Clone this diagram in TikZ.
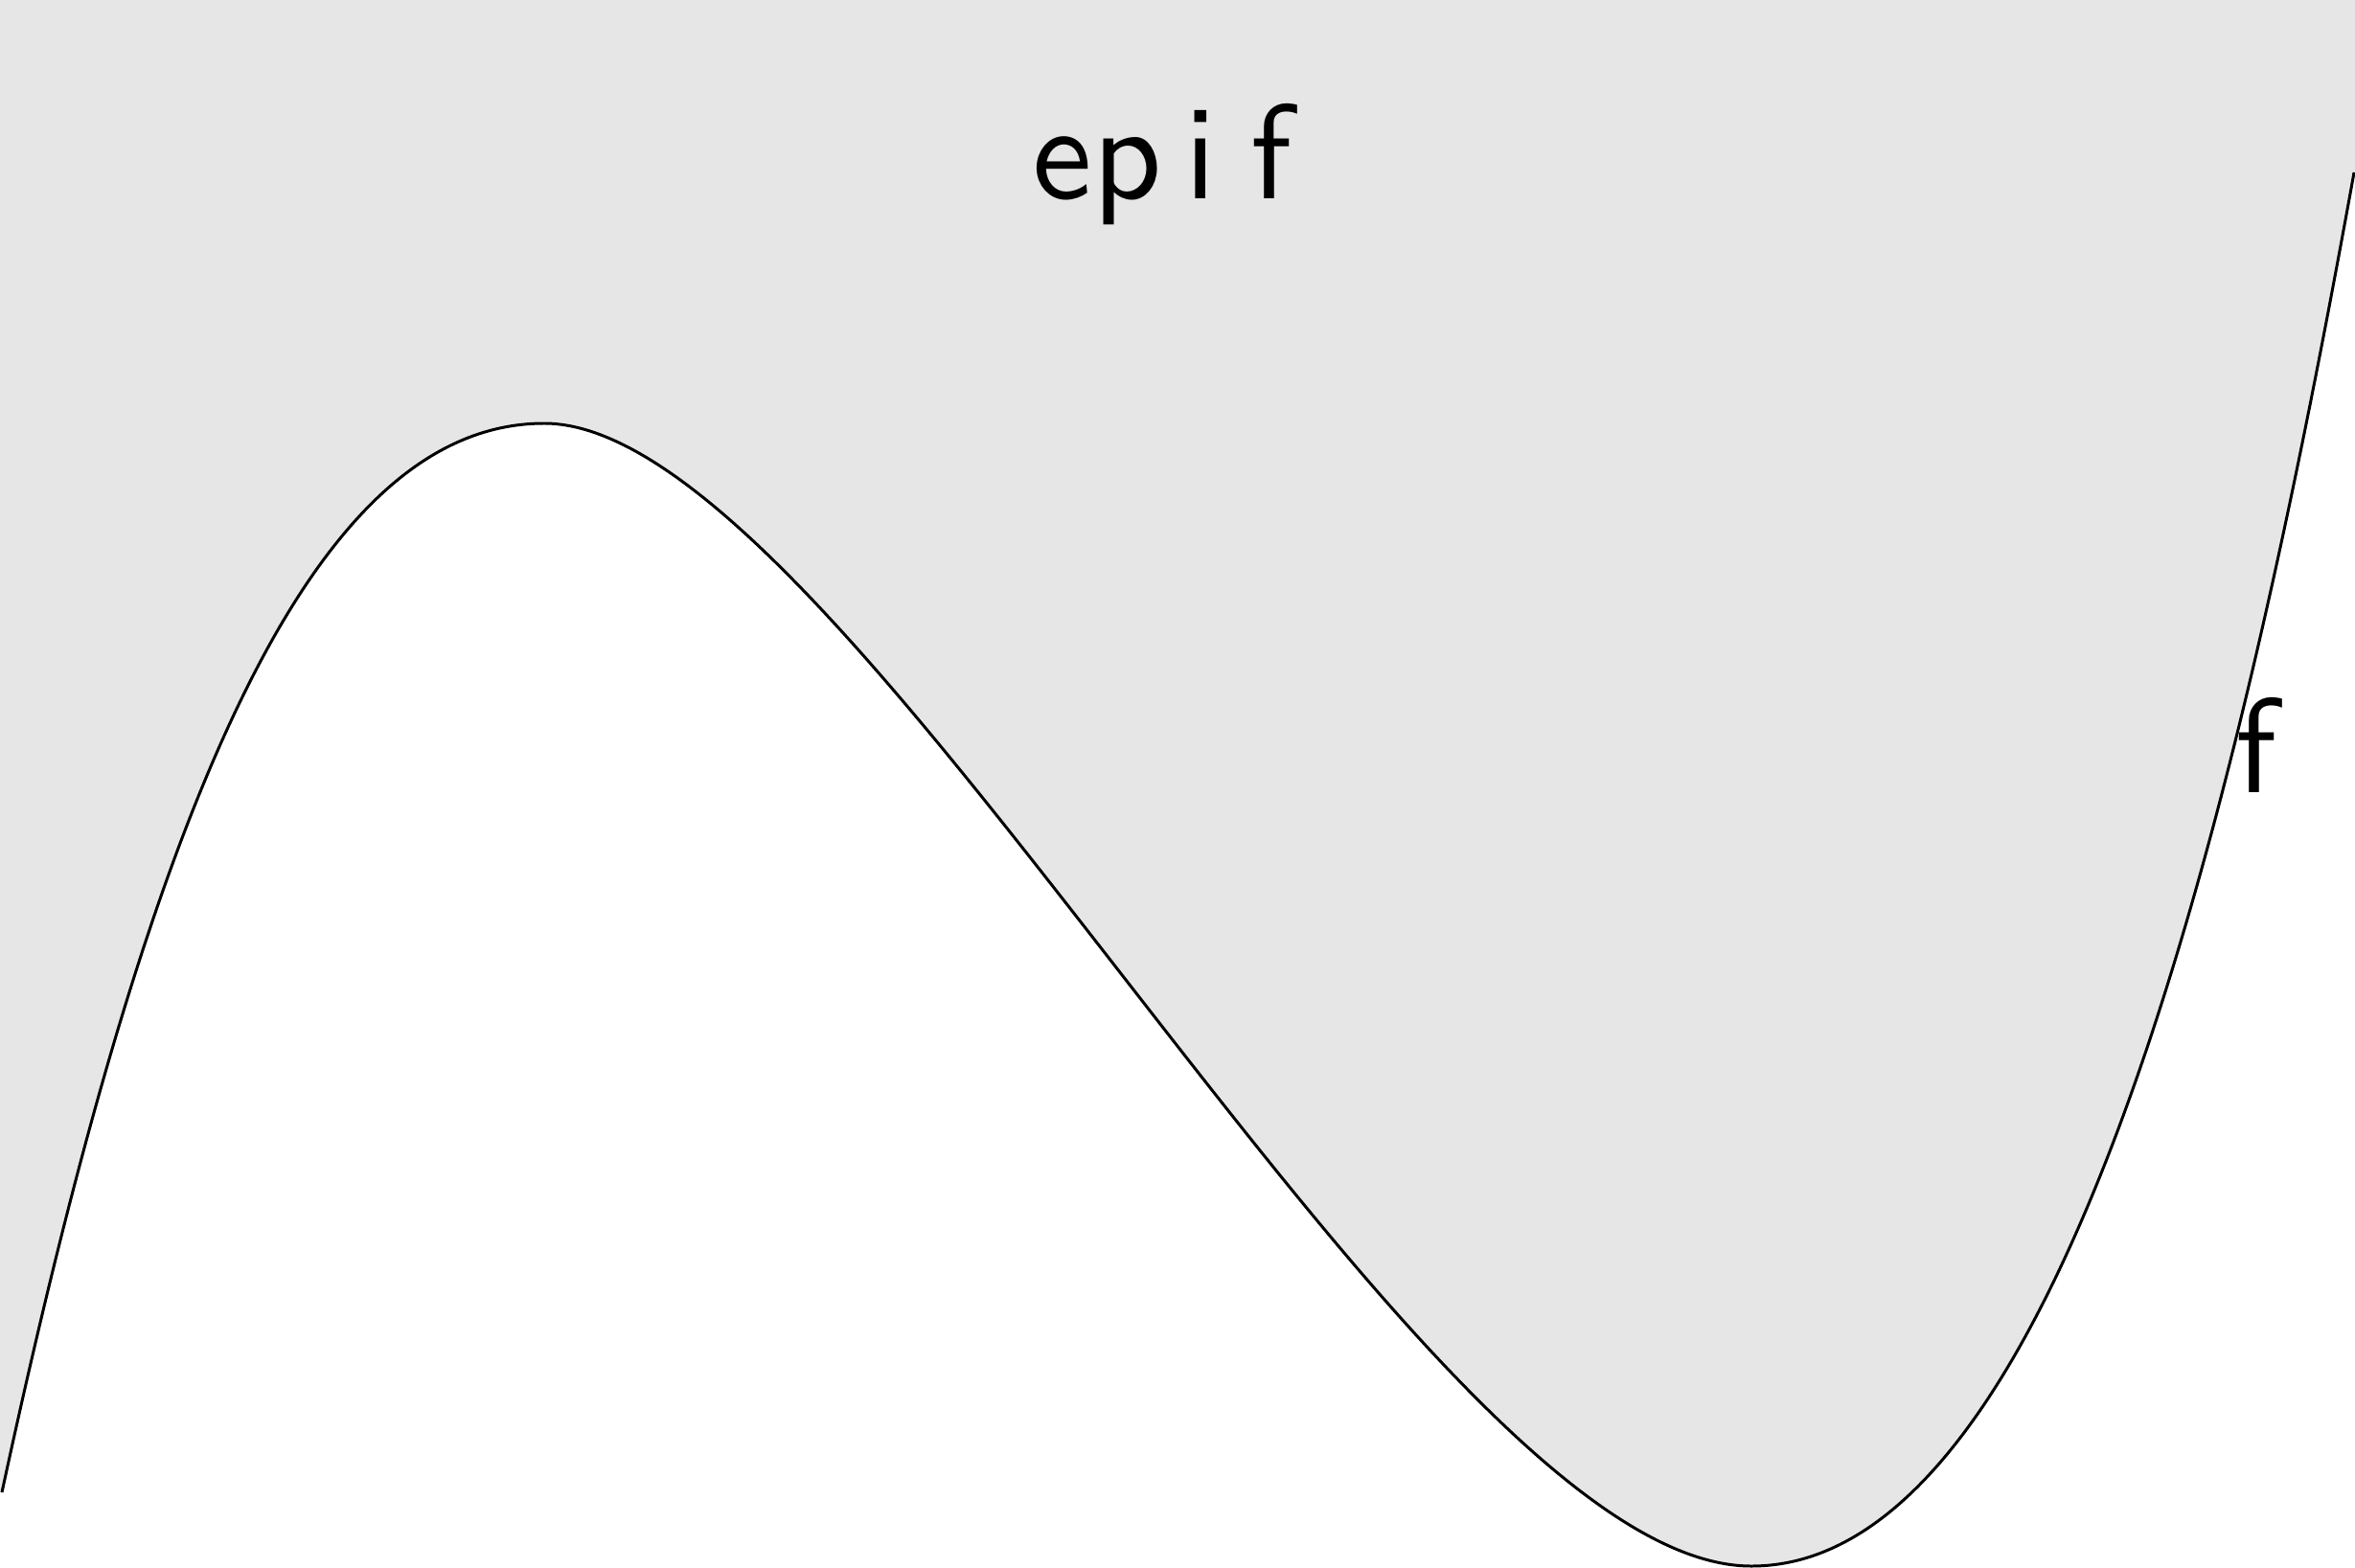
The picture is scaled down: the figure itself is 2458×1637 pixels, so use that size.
\documentclass[tikz,border=0pt]{standalone}
\usepackage{fontspec}
\newfontfamily\epifont{lmsans10-regular.otf}
\usepackage{tikz}
\definecolor{epi}{HTML}{E6E6E6}
\tikzset{
  curve/.style={draw=black,line width=0.85pt},
  lbl/.style={font=\epifont\fontsize{40pt}{48pt}\selectfont,inner sep=0pt},
}
\begin{document}
\begin{tikzpicture}[x=0.01cm,y=-0.01cm]
\useasboundingbox (0,0) rectangle (2458,1637);
\coordinate (l) at (2,1558);
\coordinate (mx) at (568,442);
\coordinate (mn) at (1828,1635);
\coordinate (r) at (2457,180);
% epigraph
\fill[epi] (0,0) -- (0,1558) -- (l)
  .. controls (152,862) and (318,442) .. (mx)
  .. controls (885,442) and (1482,1635) .. (mn)
  .. controls (2160,1635) and (2345,800) .. (r)
  -- (2458,180) -- (2458,0) -- cycle;
\draw[curve] (l)
  .. controls (152,862) and (318,442) .. (mx)
  .. controls (885,442) and (1482,1635) .. (mn)
  .. controls (2160,1635) and (2345,800) .. (r);
\node[lbl,anchor=base west] (epilabel) at (1077,208) {ep\kern6.8pt i\kern-3.3pt{} f};
\node[lbl,anchor=base west] (flabel) at (2333,827) {f};
\end{tikzpicture}
\end{document}
